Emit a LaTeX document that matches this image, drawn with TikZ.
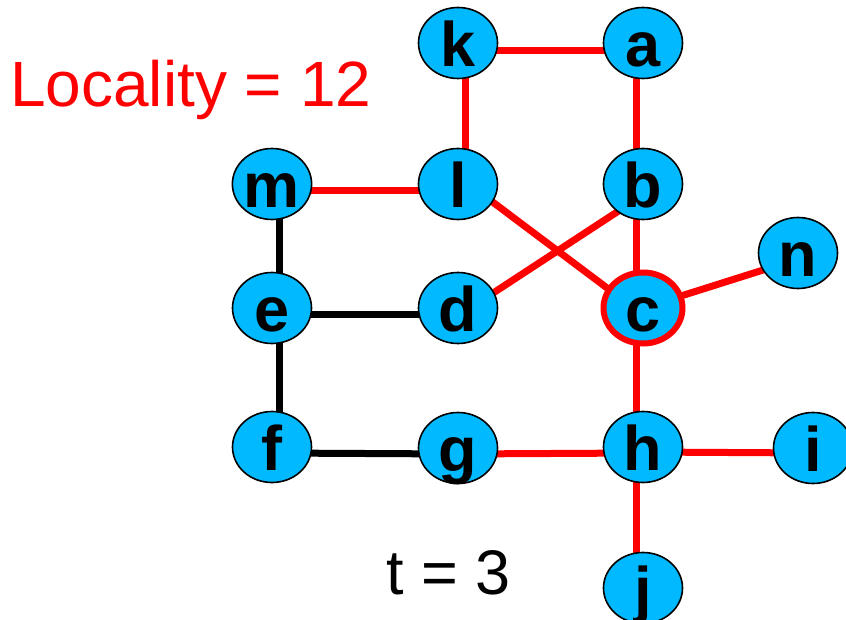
\documentclass[tikz,border=0pt]{standalone}
\usepackage{fontspec}
\setmainfont{Liberation Sans}
\usetikzlibrary{shapes.geometric}
\pgfdeclarelayer{bg}
\pgfsetlayers{bg,main}
\definecolor{nodecyan}{RGB}{0,185,255}
\begin{document}
\begin{tikzpicture}[x=1pt,y=1pt,
  vtx/.style={ellipse, draw=black, line width=1.6pt, fill=nodecyan,
    minimum width=79pt, minimum height=71pt, inner sep=0pt,
    font=\fontsize{63}{70}\selectfont\bfseries, text height=47pt, text depth=0pt},
  hot/.style={vtx, draw=red, line width=6pt},
  redE/.style={draw=red, line width=7pt},
  blkE/.style={draw=black, line width=7pt},
  lbl/.style={inner sep=0pt, anchor=base west}]
\useasboundingbox (0,0) rectangle (846,619);
\node[vtx] (k) at (458,576) {k};
\node[vtx] (a) at (643,576) {a};
\node[vtx] (m) at (272,435) {m};
\node[vtx] (l) at (458,435) {l};
\node[vtx] (b) at (643,435) {b};
\node[vtx] (n) at (798,366) {n};
\node[vtx] (e) at (272,311) {e};
\node[vtx] (d) at (458,311) {d};
\node[hot] (c) at (643,311) {c};
\node[vtx] (f) at (272,172) {f};
\node[vtx] (g) at (458,171) {g};
\node[vtx] (h) at (643,172) {h};
\node[vtx] (i) at (813,171) {i};
\node[vtx] (j) at (643,31) {j};
\node[lbl, text=red, font=\fontsize{64}{70}\selectfont] (loc) at (10,512) {Locality = 12};
\node[lbl, font=\fontsize{63}{70}\selectfont] (t) at (386,25) {t = 3};
\begin{pgfonlayer}{bg}
\draw[redE] ([yshift=-8pt]k.center) -- ([yshift=-8pt]a.center);
\draw[redE] ([xshift=7pt]k.center) -- ([xshift=7pt]l.center);
\draw[redE] ([xshift=-7pt]a.center) -- ([xshift=-7pt]b.center);
\draw[redE] ([yshift=-7pt]m.center) -- ([yshift=-7pt]l.center);
\draw[blkE] ([xshift=7pt]m.center) -- ([xshift=7pt]e.center);
\draw[blkE] ([yshift=-7pt]e.center) -- ([yshift=-7pt]d.center);
\draw[blkE] ([xshift=7pt]e.center) -- ([xshift=7pt]f.center);
\draw[blkE] ([yshift=-6pt]f.center) -- ([yshift=-6pt]g.center);
\draw[redE] ([yshift=-6pt]g.center) -- ([yshift=-6pt]h.center);
\draw[redE] ([yshift=-5pt]h.center) -- ([yshift=-5pt]i.center);
\draw[redE] ([xshift=-7pt]h.center) -- ([xshift=-7pt]j.center);
\draw[redE] ([xshift=-7pt]b.center) -- ([xshift=-7pt]c.center);
\draw[redE] ([xshift=-7pt]c.center) -- ([xshift=-7pt]h.center);
\draw[redE] (c.center) -- ([yshift=-6pt]n.center);
\draw[redE] ([yshift=8pt]l.center) -- ([yshift=-7pt]c.center);
\draw[redE] ([yshift=-11pt]b.center) -- ([yshift=-8pt]d.center);
\end{pgfonlayer}
\end{tikzpicture}
\end{document}
